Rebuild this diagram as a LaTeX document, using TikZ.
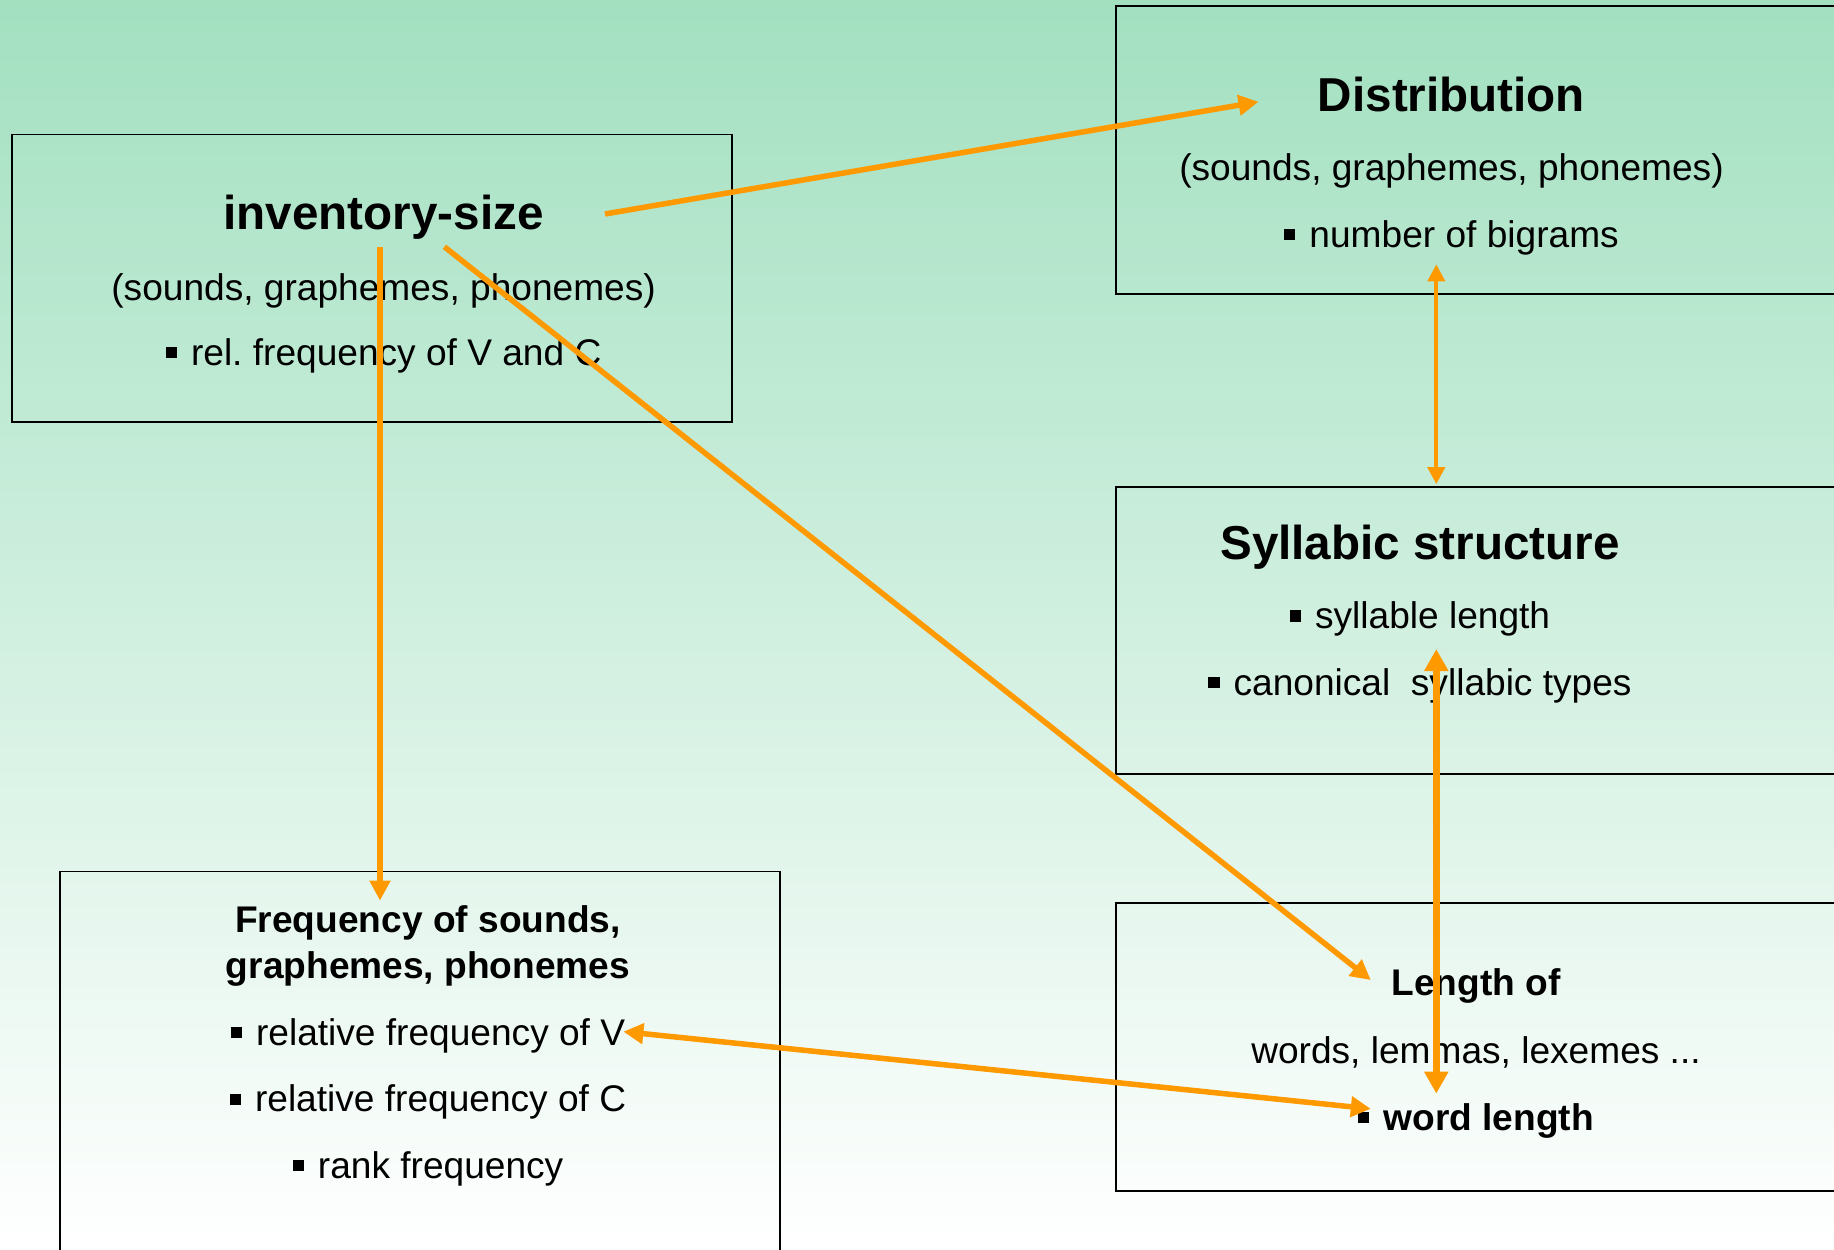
\documentclass[tikz,border=0pt]{standalone}
\usepackage{fontspec}
\setmainfont{Liberation Sans}
\usepackage{tikz}
\usetikzlibrary{arrows.meta}

\definecolor{bgtop}{RGB}{162,224,192}
\definecolor{bgmid}{RGB}{214,240,228}
\definecolor{linkc}{RGB}{255,153,0}
\newcommand{\bul}{\rule[0.19em]{0.3em}{0.3em}\hspace{0.38em}}

\tikzset{
  box/.style={draw=black,line width=1.8pt},
  head/.style={font=\fontsize{47.6}{57}\selectfont\bfseries,anchor=base,inner sep=0pt},
  txt/.style={font=\fontsize{37.1}{44}\selectfont,anchor=base,inner sep=0pt},
  btxt/.style={txt,font=\fontsize{37.1}{44}\selectfont\bfseries},
  link/.style={draw=linkc,line width=5.5pt,-{Triangle[length=20pt,width=20pt]}},
  twoway/.style={link,{Triangle[length=20pt,width=20pt]}-{Triangle[length=20pt,width=20pt]}}
}

\begin{document}
\begin{tikzpicture}[x=1pt,y=-1pt]
    \useasboundingbox (0,0) rectangle (1834,1250);
    \clip (0,0) rectangle (1834,1250);
    \shade[top color=bgtop,middle color=bgmid,bottom color=white] (0,0) rectangle (1834,1250);

    \draw[box] (11.7,134.5) rectangle (732,422);
    \draw[box] (1116,5.8) rectangle (1850,293.6);
    \draw[box] (1116,486.6) rectangle (1850,774.3);
    \draw[box] (1116,903) rectangle (1850,1190.6);
    \draw[box] (59.7,871.4) rectangle (780,1270);

    \node[head] (invhead) at (383.6,229.5) {inventory-size};
    \node[txt] (invunits) at (383.6,300) {(sounds, graphemes, phonemes)};
    \node[txt] (invrel) at (383.6,365.5) {\bul rel.\ frequency of V and C};

    \node[head] (disthead) at (1451.5,111.2) {Distribution};
    \node[txt] (distunits) at (1451.5,180.7) {(sounds, graphemes, phonemes)};
    \node[txt] (distbig) at (1451.5,247.3) {\bul number of bigrams};

    \node[head] (sylhead) at (1420,559) {Syllabic structure};
    \node[txt] (syllen) at (1420,628.6) {\bul syllable length};
    \node[txt] (syltypes) at (1420,695.3) {\bul canonical\ \ syllabic types};

    \node[btxt] (lenhead) at (1476,995.9) {Length of};
    \node[txt] (lenunits) at (1476,1063.7) {words, lemmas, lexemes ...};
    \node[btxt] (lenword) at (1476,1130.4) {\bul word length};

    \node[btxt] (freqhead) at (428,932.7) {Frequency of sounds,};
    \node[btxt] (freqhead2) at (428,978.3) {graphemes, phonemes};
    \node[txt] (freqV) at (428,1045) {\bul relative frequency of V};
    \node[txt] (freqC) at (428,1111.7) {\bul relative frequency of C};
    \node[txt] (freqrank) at (428,1178.3) {\bul rank frequency};

    \coordinate (invout) at (605,214);
    \coordinate (distin) at (1258.5,101.8);
    \coordinate (invdown) at (380,246.8);
    \coordinate (freqin) at (380,900.6);
    \coordinate (invdiag) at (444.4,246.8);
    \coordinate (lenin) at (1370.8,980);
    \coordinate (distlow) at (1436.3,264.3);
    \coordinate (syltop) at (1436.3,484.2);
    \coordinate (sylmid) at (1436.3,649.1);
    \coordinate (lenlow) at (1436.3,1093.6);
    \coordinate (freqVend) at (623.4,1031.6);
    \coordinate (wordin) at (1370.8,1108.8);

    \draw[link] (invout) -- (distin);
    \draw[link] (invdown) -- (freqin);
    \draw[link] (invdiag) -- (lenin);
    \draw[twoway,line width=4pt,{Triangle[length=17pt,width=17pt]}-{Triangle[length=17pt,width=17pt]}] (distlow) -- (syltop);
    \draw[twoway,line width=7pt,{Triangle[length=22pt,width=23pt]}-{Triangle[length=22pt,width=23pt]}] (sylmid) -- (lenlow);
    \draw[twoway] (freqVend) -- (wordin);
\end{tikzpicture}
\end{document}
